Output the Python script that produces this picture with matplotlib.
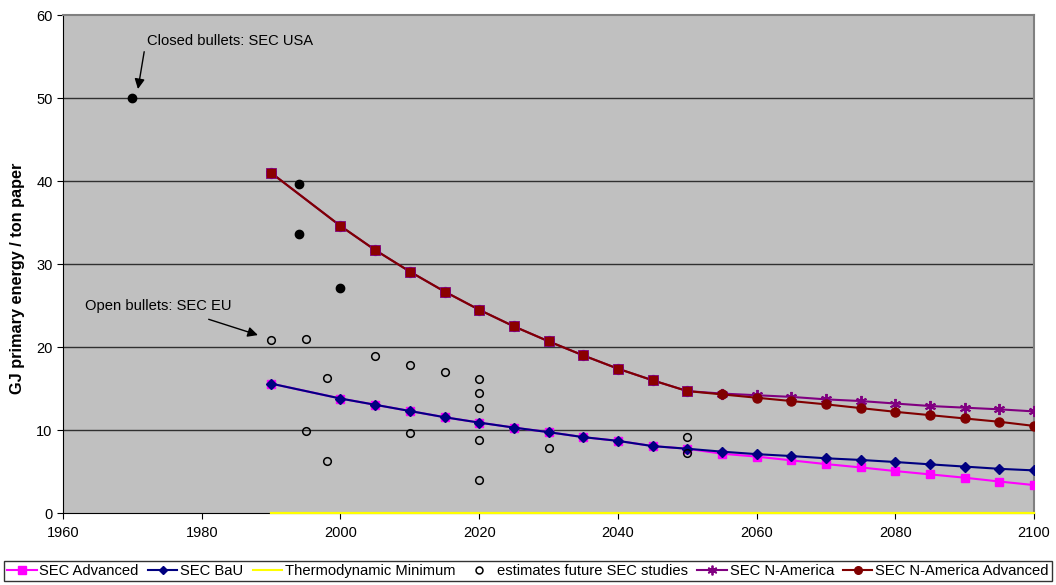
import matplotlib
matplotlib.use("Agg")
import matplotlib.pyplot as plt
from matplotlib.lines import Line2D

plt.rcParams['font.family'] = ['Liberation Sans', 'DejaVu Sans']

years = list(range(1990, 2101, 5))
years = [y for y in years if y != 1995]  # model points: 1990, 2000, 2005, ..., 2100

sec_bau = [15.6, 13.8, 13.05, 12.3, 11.55, 10.9, 10.3, 9.75, 9.15, 8.7, 8.07, 7.75,
           7.4, 7.1, 6.87, 6.6, 6.4, 6.15, 5.87, 5.6, 5.33, 5.14]
sec_adv = [15.6, 13.8, 13.05, 12.3, 11.55, 10.9, 10.3, 9.75, 9.15, 8.7, 8.07, 7.75,
           7.15, 6.8, 6.35, 5.9, 5.5, 5.06, 4.66, 4.26, 3.8, 3.37]
sec_na = [41.0, 34.6, 31.7, 29.1, 26.7, 24.5, 22.5, 20.7, 19.0, 17.4, 16.0, 14.7,
          14.4, 14.2, 14.0, 13.7, 13.5, 13.2, 12.9, 12.7, 12.5, 12.25]
sec_na_adv = [41.0, 34.6, 31.7, 29.1, 26.7, 24.5, 22.5, 20.7, 19.0, 17.4, 16.0, 14.7,
              14.3, 13.9, 13.5, 13.1, 12.65, 12.2, 11.8, 11.4, 11.0, 10.5]
thermo_years = [1990, 2100]
thermo_min = [0.0, 0.0]

usa_years = [1970, 1994, 1994, 2000]
usa_vals = [50.0, 39.6, 33.65, 27.1]

eu_years = [1990, 1995, 1995, 1998, 1998, 2005, 2010, 2010, 2015,
            2020, 2020, 2020, 2020, 2020, 2030, 2050, 2050]
eu_vals = [20.85, 21.0, 9.9, 16.3, 6.27, 18.9, 17.8, 9.64, 16.95,
           16.15, 14.5, 12.7, 8.76, 3.98, 7.8, 9.2, 7.27]

STAR = (6, 2, 0)

fig = plt.figure(figsize=(10.56, 5.85), dpi=100)
ax = fig.add_axes([0.0597, 0.123, 0.9195, 0.851])
ax.set_facecolor('#C0C0C0')

ax.set_xlim(1960, 2100)
ax.set_ylim(0, 60)
ax.set_xticks(range(1960, 2101, 20))
ax.set_yticks(range(0, 61, 10))
for yv in range(10, 60, 10):
    ax.axhline(yv, color='#303030', lw=1.0, zorder=1)

ax.plot(thermo_years, thermo_min, color='#FFFF00', lw=1.6, zorder=2.7, clip_on=False)

ax.plot(years, sec_adv, color='#FF00FF', lw=1.5, marker='s', ms=6, mfc='#FF00FF', mec='#FF00FF', zorder=3)
ax.plot(years, sec_bau, color='#000080', lw=1.5, marker='D', ms=5, mfc='#000080', mec='#000080', zorder=4)

ax.plot(years, sec_na, color='#800080', lw=1.5, marker=STAR, ms=8, mew=1.4, mec='#800080', zorder=3)
ax.plot(years, sec_na_adv, color='#800000', lw=1.5, marker='o', ms=6.5, mfc='#800000', mec='#800000', zorder=4)
n_shared = years.index(2050) + 1
ax.plot(years[:n_shared], sec_na_adv[:n_shared], ls='none', marker='s', ms=6.5,
        mfc='#8B0000', mec='#800080', mew=0.6, zorder=5)

ax.plot(usa_years, usa_vals, ls='none', marker='o', ms=6, mfc='black', mec='black', zorder=6)
ax.plot(eu_years, eu_vals, ls='none', marker='o', ms=5.5, mfc='none', mec='black', mew=1.1, zorder=6)

# annotations
ax.text(1972.1, 56.9, 'Closed bullets: SEC USA', fontsize=10.6, ha='left', va='center')
ax.annotate('', xy=(1970.8, 51.1), xytext=(1971.7, 55.6),
            arrowprops=dict(arrowstyle='-|>', color='black', lw=1.0, mutation_scale=15,
                            shrinkA=0, shrinkB=0))
ax.text(1963.1, 24.95, 'Open bullets: SEC EU', fontsize=10.6, ha='left', va='center')
ax.annotate('', xy=(1988.1, 21.45), xytext=(1981.0, 23.35),
            arrowprops=dict(arrowstyle='-|>', color='black', lw=1.0, mutation_scale=15,
                            shrinkA=0, shrinkB=0))

ax.set_ylabel('GJ primary energy / ton paper', fontsize=11.7, fontweight='bold')
ax.yaxis.set_label_coords(-0.039, 0.472)
ax.tick_params(axis='both', labelsize=10.5, direction='out', length=4, color='black')
ax.tick_params(axis='x', pad=5)
for s in ('top', 'right'):
    ax.spines[s].set_color('#808080')
    ax.spines[s].set_linewidth(1.5)
ax.spines['left'].set_color('black')
ax.spines['bottom'].set_color('black')

handles = [
    Line2D([], [], color='#FF00FF', lw=1.5, marker='s', ms=6, mfc='#FF00FF', mec='#FF00FF'),
    Line2D([], [], color='#000080', lw=1.5, marker='D', ms=4.5, mfc='#000080', mec='#000080'),
    Line2D([], [], color='#FFFF00', lw=1.5),
    Line2D([], [], ls='none', marker='o', ms=5, mfc='none', mec='black', mew=1.1),
    Line2D([], [], color='#800080', lw=1.5, marker=STAR, ms=7, mew=1.3, mec='#800080'),
    Line2D([], [], color='#800000', lw=1.5, marker='o', ms=5.5, mfc='#800000', mec='#800000'),
]
labels = ['SEC Advanced', 'SEC BaU', 'Thermodynamic Minimum', 'estimates future SEC studies',
          'SEC N-America', 'SEC N-America Advanced']
leg = fig.legend(handles, labels, loc='lower center', bbox_to_anchor=(0.5, 0.0), ncol=6,
                 fontsize=10.6, frameon=True, fancybox=False, edgecolor='black',
                 handlelength=2.0, handletextpad=0.2, columnspacing=0.62, borderpad=0.2,
                 borderaxespad=0.25)
leg.get_frame().set_linewidth(1.0)

fig.savefig('out.png', dpi=100, facecolor='white')
